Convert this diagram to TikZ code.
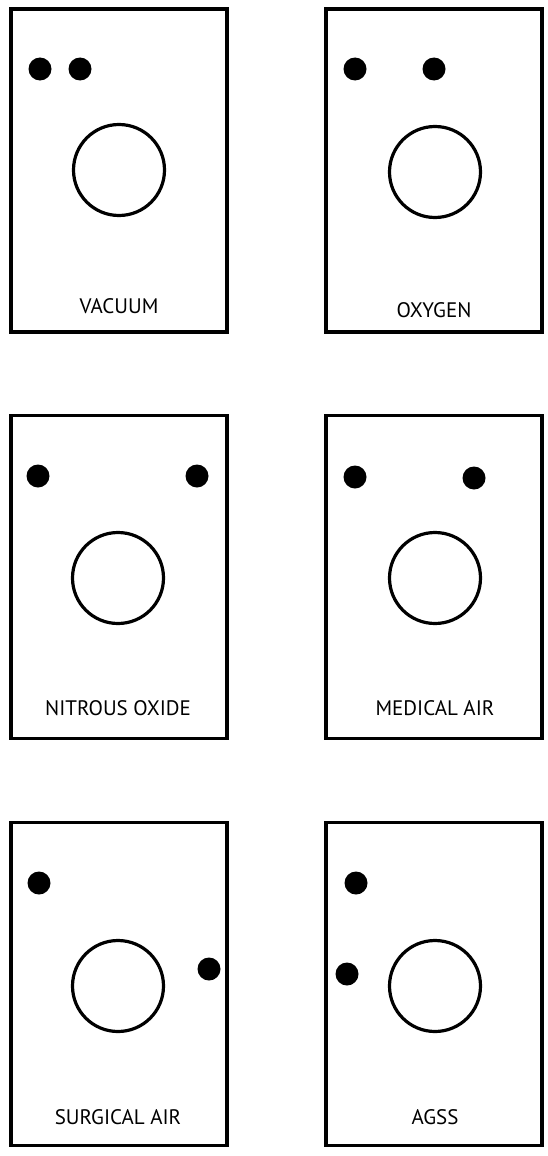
\documentclass[tikz,border=0pt]{standalone}
\usepackage{fontspec}
\setmainfont{PT Sans}
\usepackage{tikz}
\tikzstyle{panel} = [rectangle, draw=black, line width=3.6pt, minimum width=216pt, minimum height=323pt, inner sep=0pt]
\tikzstyle{outlet} = [circle, draw=black, line width=3.2pt, minimum size=91pt, inner sep=0pt]
\tikzstyle{pindot} = [circle, fill=black, minimum size=23pt, inner sep=0pt]
\tikzstyle{gaslabel} = [font=\fontsize{21}{24}\selectfont, inner sep=0pt]

\begin{document}
\begin{tikzpicture}[x=1pt, y=-1pt]
    \useasboundingbox (0,0) rectangle (548,1156);
    % top row
    \node[panel] (vac) at (119,170.5) {};
    \node[pindot] (vac-a) at (40,69) {}; \node[pindot] (vac-b) at (80,69) {};
    \node[outlet] (vac-o) at (119,170) {};
    \node[gaslabel] (vac-t) at (119,306) {VACUUM};
    \node[panel] (oxy) at (434,170.5) {};
    \node[pindot] (oxy-a) at (355,69) {}; \node[pindot] (oxy-b) at (434,69) {};
    \node[outlet] (oxy-o) at (435,172) {};
    \node[gaslabel] (oxy-t) at (434,310) {OXYGEN};
    % middle row
    \node[panel] (nit) at (119,577) {};
    \node[pindot] (nit-a) at (38,476) {}; \node[pindot] (nit-b) at (197,476) {};
    \node[outlet] (nit-o) at (118,578) {};
    \node[gaslabel] (nit-t) at (118,708) {NITROUS OXIDE};
    \node[panel] (med) at (434,577) {};
    \node[pindot] (med-a) at (355,477) {}; \node[pindot] (med-b) at (474,478) {};
    \node[outlet] (med-o) at (435,578) {};
    \node[gaslabel] (med-t) at (435,708) {MEDICAL AIR};
    % bottom row
    \node[panel] (sur) at (119,984) {};
    \node[pindot] (sur-a) at (39,883) {}; \node[pindot] (sur-b) at (209,969) {};
    \node[outlet] (sur-o) at (118,986) {};
    \node[gaslabel] (sur-t) at (118,1117) {SURGICAL AIR};
    \node[panel] (agss) at (434,984) {};
    \node[pindot] (agss-a) at (356,883) {}; \node[pindot] (agss-b) at (347,974) {};
    \node[outlet] (agss-o) at (435,986) {};
    \node[gaslabel] (agss-t) at (435,1117) {AGSS};
\end{tikzpicture}
\end{document}
